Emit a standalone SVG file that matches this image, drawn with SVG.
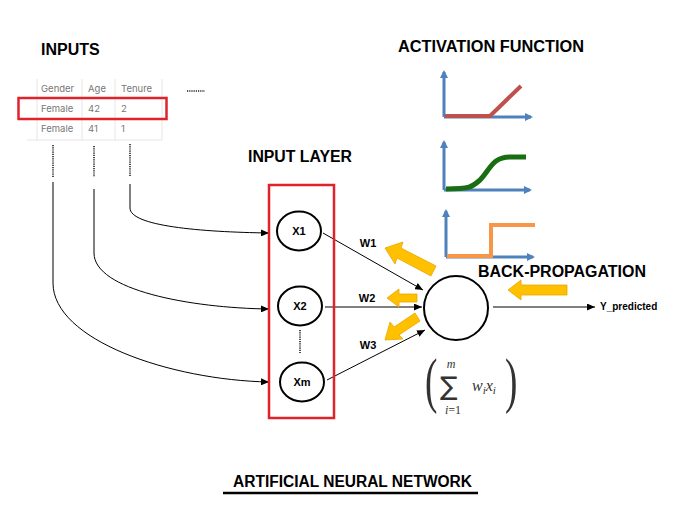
<svg xmlns="http://www.w3.org/2000/svg" width="691" height="511" viewBox="0 0 691 511">
<defs>
<style>
.title{font-family:"Liberation Sans",Arial,sans-serif;font-weight:bold;font-size:16px;fill:#000}
.cell{font-family:Inter,"Liberation Sans",sans-serif;font-size:9.5px;fill:#777}
.grid{stroke:#e6e6e6;stroke-width:1;fill:none}
.node{fill:#fff;stroke:#000;stroke-width:2}
.nlabel{font-family:"Liberation Sans",Arial,sans-serif;font-weight:bold;font-size:11px;fill:#000;text-anchor:middle}
.wlabel{font-family:"Liberation Sans",Arial,sans-serif;font-weight:bold;font-size:11px;fill:#000;text-anchor:middle}
.redbox{fill:none;stroke:#e0222b;stroke-width:2.5}
.conn{fill:none;stroke:#000;stroke-width:1}
.dots{fill:none;stroke:#222;stroke-width:1.6;stroke-dasharray:1.2 1}
.yarrow{fill:#ffc000;stroke:#e8a600;stroke-width:0.8}
.axis{fill:none;stroke:#4f81bd;stroke-width:3}
.math{font-family:"Liberation Serif","DejaVu Serif",serif;fill:#333}
</style>
<marker id="ah" viewBox="0 0 8 7" refX="8" refY="3.5" markerWidth="8" markerHeight="7" markerUnits="userSpaceOnUse" orient="auto">
<path d="M0,0 L8,3.5 L0,7 z" fill="#000"/>
</marker>
<marker id="bh" viewBox="0 0 8 8" refX="6" refY="4" markerWidth="8" markerHeight="8" markerUnits="userSpaceOnUse" orient="auto">
<path d="M0,0 L8,4 L0,8 z" fill="#4f81bd"/>
</marker>
</defs>
<rect width="691" height="511" fill="#fff"/>

<!-- Titles -->
<text class="title" x="41" y="55">INPUTS</text>
<text class="title" x="398" y="52" textLength="186" lengthAdjust="spacingAndGlyphs">ACTIVATION FUNCTION</text>
<text class="title" x="248" y="162" textLength="104" lengthAdjust="spacingAndGlyphs">INPUT LAYER</text>
<text class="title" x="478" y="277" textLength="168" lengthAdjust="spacingAndGlyphs">BACK-PROPAGATION</text>
<text class="title" x="233" y="487" textLength="239" lengthAdjust="spacingAndGlyphs">ARTIFICIAL NEURAL NETWORK</text>
<line x1="223" y1="493" x2="478" y2="493" stroke="#000" stroke-width="2.5"/>

<!-- Input table -->
<g id="table">
<line class="grid" x1="27" y1="98" x2="162" y2="98"/>
<line class="grid" x1="27" y1="119" x2="162" y2="119"/>
<line class="grid" x1="27" y1="140" x2="162" y2="140"/>
<line class="grid" x1="37" y1="79" x2="37" y2="140"/>
<line class="grid" x1="82" y1="79" x2="82" y2="140"/>
<line class="grid" x1="115" y1="79" x2="115" y2="140"/>
<line class="grid" x1="162" y1="79" x2="162" y2="140"/>
<text class="cell" x="41" y="92">Gender</text>
<text class="cell" x="88" y="92">Age</text>
<text class="cell" x="121" y="92">Tenure</text>
<text class="cell" x="41" y="112">Female</text>
<text class="cell" x="88" y="112">42</text>
<text class="cell" x="121" y="112">2</text>
<text class="cell" x="41" y="132">Female</text>
<text class="cell" x="88" y="132">41</text>
<text class="cell" x="121" y="132">1</text>
<rect class="redbox" x="18.5" y="98" width="148" height="21"/>
<line class="dots" x1="187" y1="91" x2="205" y2="91"/>
</g>

<!-- Activation functions -->
<g id="relu">
<line class="axis" x1="444" y1="117" x2="444" y2="72" marker-end="url(#bh)"/>
<line class="axis" x1="444" y1="117" x2="531" y2="117" marker-end="url(#bh)"/>
<polyline points="445,116 490,116 521,86" fill="none" stroke="#c0504d" stroke-width="4"/>
</g>
<g id="sigmoid">
<line class="axis" x1="444" y1="190" x2="444" y2="142" marker-end="url(#bh)"/>
<line class="axis" x1="444" y1="190" x2="530" y2="190" marker-end="url(#bh)"/>
<path d="M446,189 C470,189 472,187 480,180 C490,170 492,157 510,157 L526,157" fill="none" stroke="#1a6e12" stroke-width="5"/>
</g>
<g id="step">
<line class="axis" x1="446" y1="257" x2="446" y2="211" marker-end="url(#bh)"/>
<line class="axis" x1="446" y1="257" x2="533" y2="257" marker-end="url(#bh)"/>
<polyline points="447,256 491,256 491,225 535,225" fill="none" stroke="#f79646" stroke-width="4"/>
</g>

<!-- Connectors -->
<g id="connectors">
<path class="dots" d="M53,145 V177"/>
<path class="dots" d="M94,146 V177"/>
<path class="dots" d="M130,144 V176"/>
<path class="conn" d="M130,184 V208 C130,226 200,232 269,233" marker-end="url(#ah)"/>
<path class="conn" d="M94,189 V253 C94,290 190,308 269,309" marker-end="url(#ah)"/>
<path class="conn" d="M53,182 V283 C53,340 170,380 269,382" marker-end="url(#ah)"/>
<line class="conn" x1="323" y1="233" x2="423" y2="290" marker-end="url(#ah)"/>
<line class="conn" x1="325" y1="307" x2="422" y2="307" marker-end="url(#ah)"/>
<line class="conn" x1="327" y1="380" x2="425" y2="330" marker-end="url(#ah)"/>
<line class="conn" x1="493" y1="307" x2="595" y2="307" marker-end="url(#ah)"/>
</g>

<!-- Input layer -->
<rect class="redbox" x="269" y="185" width="65" height="233"/>
<g id="x1"><ellipse class="node" cx="299" cy="231" rx="22" ry="19.5"/><text class="nlabel" x="299" y="235">X1</text></g>
<g id="x2"><ellipse class="node" cx="300" cy="306" rx="22" ry="19.5"/><text class="nlabel" x="300" y="310">X2</text></g>
<line class="dots" x1="300" y1="330" x2="300" y2="353"/>
<g id="xm"><ellipse class="node" cx="302" cy="382" rx="22" ry="19.5"/><text class="nlabel" x="302" y="386">Xm</text></g>

<!-- Weights -->
<text class="wlabel" x="368" y="247">W1</text>
<text class="wlabel" x="367" y="302">W2</text>
<text class="wlabel" x="368" y="349">W3</text>

<!-- Neuron -->
<g id="neuron"><circle class="node" cx="456" cy="308" r="32"/></g>
<text x="600" y="310" font-family="Liberation Sans,Arial,sans-serif" font-weight="bold" font-size="10" fill="#000">Y_predicted</text>

<!-- Back-propagation arrows -->
<g id="backprop">
<polygon class="yarrow" points="385,248 403,242 401,248 436,266 431,276 397,258 395,264"/>
<polygon class="yarrow" points="387,298 399,289 399,294 417,294 417,302 399,302 399,307"/>
<polygon class="yarrow" points="385,340 390,322 394,327 415,313 420,321 399,335 403,339"/>
<polygon class="yarrow" points="508,290 521,280 521,285 567,285 567,295 521,295 521,300"/>
</g>

<!-- Formula -->
<g id="formula">
<text class="math" x="425" y="401" font-size="62" transform="translate(425 0) scale(0.6 1) translate(-425 0)">(</text>
<text x="440" y="395" font-family="DejaVu Sans,sans-serif" font-size="26" fill="#333">∑</text>
<text class="math" x="451" y="368" font-size="12" font-style="italic" text-anchor="middle">m</text>
<text class="math" x="453" y="414" font-size="12" text-anchor="middle"><tspan font-style="italic">i</tspan>=1</text>
<text x="472" y="391" font-family="Liberation Serif,serif" font-size="16" font-style="italic" fill="#333">w<tspan font-size="11" dy="3">i</tspan><tspan dy="-3">x</tspan><tspan font-size="11" dy="3">i</tspan></text>
<text class="math" x="505" y="401" font-size="62" transform="translate(505 0) scale(0.6 1) translate(-505 0)">)</text>
</g>
</svg>
